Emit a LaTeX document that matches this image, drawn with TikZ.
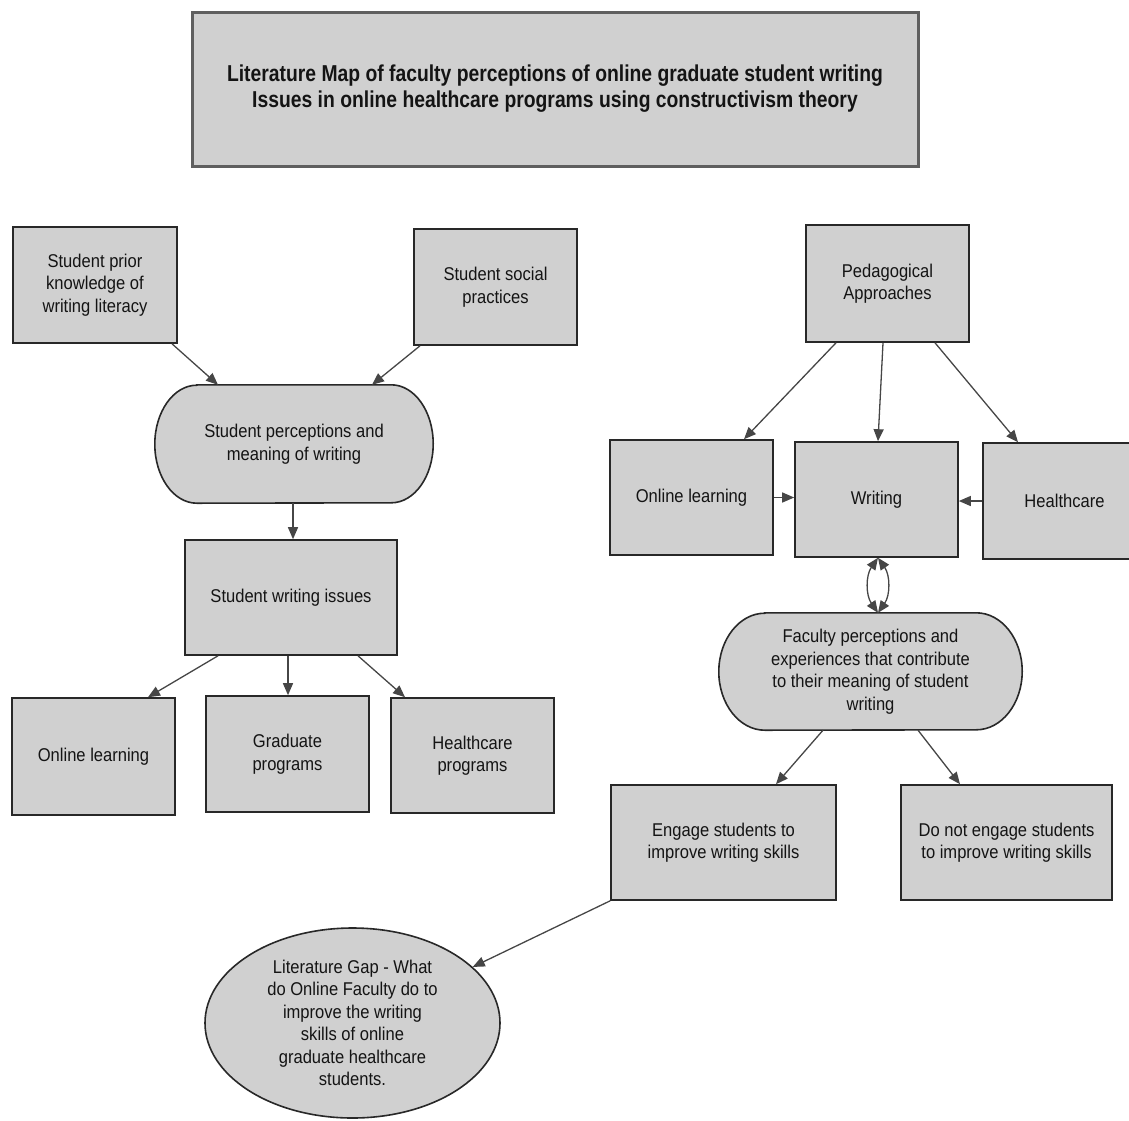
\documentclass[tikz,border=0pt]{standalone}
\usepackage{fontspec}
\setmainfont{Liberation Sans}[FakeStretch=0.895]
\newfontfamily\titlefont{Liberation Sans}[FakeStretch=0.84]
\usetikzlibrary{arrows.meta,calc,shapes.geometric,backgrounds}
\definecolor{boxfill}{RGB}{208,208,208}
\definecolor{edgec}{RGB}{40,40,40}
\definecolor{arrc}{RGB}{70,70,70}
\definecolor{titleedge}{RGB}{95,95,95}
\definecolor{txt}{RGB}{20,20,20}
\begin{document}
\begin{tikzpicture}[x=1pt,y=-1pt,
  box/.style={draw=edgec,line width=1.6pt,fill=boxfill,align=center,inner sep=0pt,
    font=\fontsize{18.5}{22.5}\selectfont,text=txt},
  pill/.style={draw=none,fill=none,align=center,inner sep=0pt,
    font=\fontsize{18.5}{22.5}\selectfont,text=txt},
  pillline/.style={draw=edgec,line width=1.6pt,fill=boxfill},
  oval/.style={ellipse,draw=edgec,line width=1.6pt,fill=boxfill,align=center,inner sep=0pt,
    font=\fontsize{18.5}{22.5}\selectfont,text=txt},
  titlebox/.style={draw=titleedge,line width=3pt,fill=boxfill,align=center,inner sep=0pt,
    font=\titlefont\bfseries\fontsize{23}{26}\selectfont,text=txt},
  arr/.style={draw=arrc,line width=1.3pt,-{Triangle[length=12pt,width=10pt]}},
  dbl/.style={draw=arrc,line width=1.3pt,{Triangle[length=12pt,width=10pt]}-{Triangle[length=12pt,width=10pt]}}
]
\useasboundingbox (0,0) rectangle (1129,1120);

% title
\node[titlebox,minimum width=726pt,minimum height=154pt] (title) at (555,89)
  {Literature Map of faculty perceptions of online graduate student writing\\Issues in online healthcare programs using constructivism theory};

% left side
\node[box,minimum width=164pt,minimum height=116pt] (prior) at (95,285)
  {Student prior\\knowledge of\\writing literacy};
\node[box,minimum width=163pt,minimum height=116pt] (social) at (495.5,287)
  {Student social\\practices};
\node[pill,minimum width=278pt,minimum height=118pt] (perc) at (294,444)
  {Student perceptions and\\meaning of writing};
\node[box,minimum width=212pt,minimum height=115pt] (swi) at (291,597.5)
  {Student writing issues};
\node[box,minimum width=163pt,minimum height=117pt] (onl) at (93.5,756.5)
  {Online learning};
\node[box,minimum width=163pt,minimum height=116pt] (grad) at (287.5,754)
  {Graduate\\programs};
\node[box,minimum width=163pt,minimum height=115pt] (hcp) at (472.5,755.5)
  {Healthcare\\programs};

% right side
\node[box,minimum width=163pt,minimum height=117pt] (ped) at (887.5,283.5)
  {Pedagogical\\Approaches};
\node[box,minimum width=163pt,minimum height=115pt] (onr) at (691.5,497.5)
  {Online learning};
\node[box,minimum width=163pt,minimum height=115pt] (writ) at (876.5,499.5)
  {Writing};
\node[box,minimum width=163pt,minimum height=116pt] (hc) at (1064.5,501)
  {Healthcare};
\node[pill,minimum width=303pt,minimum height=117pt] (fac) at (870.5,671.5)
  {Faculty perceptions and\\experiences that contribute\\to their meaning of student\\writing};
\node[box,minimum width=225pt,minimum height=115pt] (eng) at (723.5,842.5)
  {Engage students to\\improve writing skills};
\node[box,minimum width=211pt,minimum height=115pt] (dne) at (1006.5,842.5)
  {Do not engage students\\to improve writing skills};
\node[oval,minimum width=295pt,minimum height=190pt] (gap) at (352.5,1023)
  {Literature Gap - What\\do Online Faculty do to\\improve the writing\\skills of online\\graduate healthcare\\students.};

% pill outlines behind the texts
\begin{scope}[on background layer]
  \draw[pillline] ($(perc.north west)+(42,0)$) -- ($(perc.north east)+(-42,0)$)
    arc[start angle=-90,end angle=90,x radius=42,y radius=59]
    -- ($(perc.south west)+(42,0)$)
    arc[start angle=90,end angle=270,x radius=42,y radius=59] -- cycle;
  \draw[pillline] ($(fac.north west)+(46,0)$) -- ($(fac.north east)+(-46,0)$)
    arc[start angle=-90,end angle=90,x radius=46,y radius=58.5]
    -- ($(fac.south west)+(46,0)$)
    arc[start angle=90,end angle=270,x radius=46,y radius=58.5] -- cycle;
\end{scope}

% connectors, left
\draw[arr] ($(prior.south)+(77,0)$) -- ($(perc.north)+(-76,0)$);
\draw[arr] ($(social.south)+(-75.5,0)$) -- ($(perc.north)+(78,0)$);
\draw[arr] ($(perc.south)+(-1,0)$) -- ($(swi.north)+(2,0)$);
\draw[arr] ($(swi.south)+(-73,0)$) -- ($(onl.north)+(54.5,0)$);
\draw[arr] ($(swi.south)+(-3,0)$) -- ($(grad.north)+(0.5,0)$);
\draw[arr] ($(swi.south)+(67,0)$) -- ($(hcp.north)+(-67.5,0)$);

% connectors, right
\draw[arr] ($(ped.south)+(-51.5,0)$) -- ($(onr.north)+(52.5,0)$);
\draw[arr] ($(ped.south)+(-4.5,0)$) -- ($(writ.north)+(1.5,0)$);
\draw[arr] ($(ped.south)+(47.5,0)$) -- ($(hc.north)+(-46.5,0)$);
\draw[arr] (onr.east) -- (writ.west |- onr.east);
\draw[arr] (hc.west) -- (writ.east |- hc.west);
\coordinate (wt) at ($(writ.south)+(1.5,0)$);
\coordinate (fb) at (wt |- fac.north);
\draw[dbl] (wt) to[bend left=35] (fb);
\draw[dbl] (wt) to[bend right=35] (fb);
\draw[arr] ($(fac.south)+(-47.5,0)$) -- ($(eng.north)+(52.5,0)$);
\draw[arr] ($(fac.south)+(47.5,0)$) -- ($(dne.north)+(-46.5,0)$);
\draw[arr] (eng.south west) -- (gap.25);
\end{tikzpicture}
\end{document}
